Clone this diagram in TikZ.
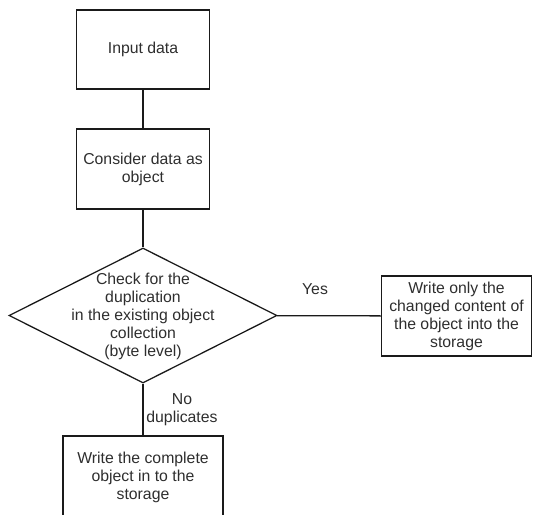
\documentclass[tikz,border=0pt]{standalone}
\usepackage{fontspec}
\setmainfont{Liberation Sans}
\usetikzlibrary{shapes.geometric}
\definecolor{ink}{HTML}{1A1A1A}
\definecolor{txt}{HTML}{2E2E2E}
\begin{document}
\begin{tikzpicture}[x=0.75pt,y=-0.75pt,
  every node/.style={font=\fontsize{11.85}{13.5}\selectfont, text=txt},
  stepbox/.style={draw=ink, line width=0.95pt, rectangle, inner sep=0pt, align=center},
  decision/.style={draw=ink, line width=0.95pt, diamond, inner sep=0pt,
                   minimum width=268*0.75pt, minimum height=135*0.75pt},
  link/.style={draw=ink, line width=0.95pt},
  tag/.style={align=center, inner sep=0pt}]
  \useasboundingbox (0,0) rectangle (535,514);
  \clip (0,0) rectangle (535,514);

  % process boxes
  \node[stepbox, minimum width=133*0.75pt, minimum height=79*0.75pt] (input) at (143,49.5) {Input data};
  \node[stepbox, minimum width=133*0.75pt, minimum height=80*0.75pt] (object) at (143,169) {Consider data as\\object};

  % duplicate check
  \node[decision] (check) at (143,315.5) {};
  \node[tag] (checktext) at (143,316) {Check for the\\duplication\\in the existing object\\collection\\(byte level)};

  % outcomes
  \node[stepbox, minimum width=149.5*0.75pt, minimum height=80*0.75pt] (partial) at (456.5,316) {Write only the\\changed content of\\the object into the\\storage};
  \node[stepbox, minimum width=160*0.75pt, minimum height=82*0.75pt] (full) at (143,477) {Write the complete\\object in to the\\storage};

  % connectors
  \draw[link] (input) -- (object);
  \draw[link] (object) -- (check);
  \draw[link] (check) -- (partial);
  \draw[link] (check) -- (full);

  % branch labels
  \node[tag] (yes) at (315,289) {Yes};
  \node[tag] (nodup) at (182,410) {No\\duplicates};
\end{tikzpicture}
\end{document}
